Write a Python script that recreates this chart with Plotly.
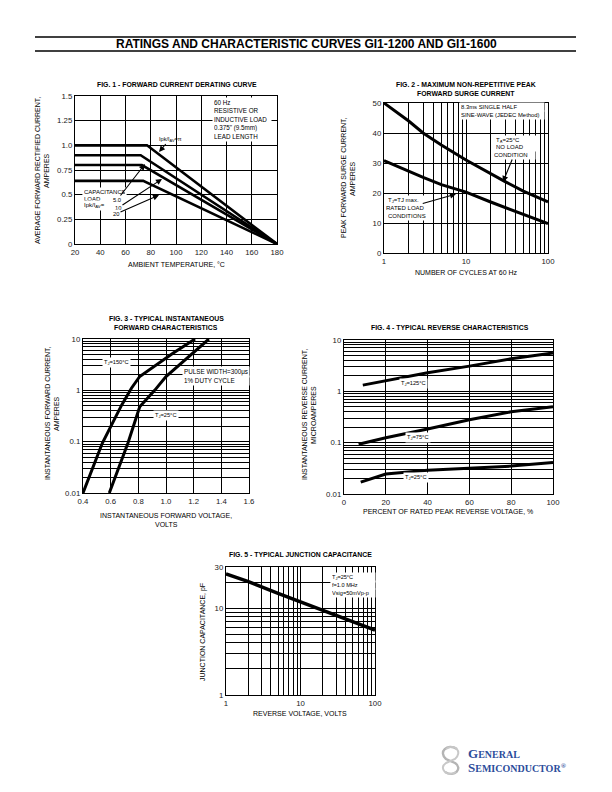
import plotly.graph_objects as go

W, H = 612, 792
FONT = "Liberation Sans, Arial, sans-serif"

# ---------------- data ----------------
# Fig 1 - derating curves (temperature degC, current A)
f1_t_pi = [20, 77, 180]; f1_i_pi = [1.0, 1.0, 0.0]
f1_t_5 = [20, 72, 180];  f1_i_5 = [0.9, 0.9, 0.0]
f1_t_10 = [20, 73, 180]; f1_i_10 = [0.8, 0.8, 0.0]
f1_t_20 = [20, 74, 180]; f1_i_20 = [0.64, 0.64, 0.0]
f1_xticks = [20, 40, 60, 80, 100, 120, 140, 160, 180]
f1_yticks = [0, 0.25, 0.5, 0.75, 1.0, 1.25, 1.5]
f1_ylabels = ["0", "0.25", "0.5", "0.75", "1.0", "1.25", "1.5"]

# Fig 2 - surge current
f2_n = [1, 2, 3, 5, 10, 20, 30, 50, 100]
f2_noload = [50, 44.0, 40.0, 36.0, 31.0, 26.3, 23.8, 20.6, 17.0]
f2_rated = [30.8, 27.2, 25.2, 22.8, 20.3, 17.0, 15.2, 12.8, 9.8]
dec_major = [1, 10, 100]
dec_minor = [2, 3, 4, 5, 6, 7, 8, 9, 20, 30, 40, 50, 60, 70, 80, 90]
f2_yticks = [0, 10, 20, 30, 40, 50]

# Fig 3 - forward characteristics
f3_v150 = [0.40, 0.54, 0.68, 0.75, 0.81, 0.93, 1.05, 1.21]
f3_i150 = [0.01, 0.094, 0.52, 1.1, 1.86, 3.1, 5.3, 10]
f3_v25 = [0.59, 0.725, 0.81, 0.918, 1.0, 1.195, 1.31]
f3_i25 = [0.01, 0.094, 0.48, 1.0, 1.86, 5.3, 10]
f3_xticks = [0.4, 0.6, 0.8, 1.0, 1.2, 1.4, 1.6]
f3_xlabels = ["0.4", "0.6", "0.8", "1.0", "1.2", "1.4", "1.6"]

# log grid ticks 0.01 .. 10
cur_major = [0.01, 0.1, 1, 10]
cur_labels = ["0.01", "0.1", "1", "10"]
cur_minor = [0.02, 0.03, 0.04, 0.05, 0.06, 0.07, 0.08, 0.09,
             0.2, 0.3, 0.4, 0.5, 0.6, 0.7, 0.8, 0.9,
             2, 3, 4, 5, 6, 7, 8, 9]

# Fig 4 - reverse characteristics
f4_p125 = [9, 20, 40, 60, 80, 100]
f4_i125 = [1.32, 1.6, 2.3, 3.1, 4.3, 5.6]
f4_p75 = [7, 20, 40, 60, 80, 100]
f4_i75 = [0.093, 0.125, 0.185, 0.28, 0.4, 0.5]
f4_p25 = [8, 20, 40, 60, 80, 100]
f4_i25 = [0.017, 0.0245, 0.029, 0.032, 0.035, 0.041]
f4_xticks = [0, 20, 40, 60, 80, 100]

# Fig 5 - junction capacitance
f5_v = [1, 2, 5, 10, 20, 50, 100]
f5_c = [25, 20.3, 14.9, 11.9, 9.5, 7.1, 5.6]
f5_ymajor = [1, 10, 30]
f5_yminor = [2, 3, 4, 5, 6, 7, 8, 9, 20]


def fx(px):
    return px / W


def fy(py):
    return 1 - py / H


fig = go.Figure()


def add_line(x, y, n, width=2.6):
    suffix = "" if n == 1 else str(n)
    fig.add_trace(go.Scatter(x=x, y=y, mode="lines", line=dict(color="black", width=width),
                             xaxis="x" + suffix, yaxis="y" + suffix, showlegend=False,
                             hoverinfo="skip"))


add_line(f1_t_pi, f1_i_pi, 1, 2.6)
add_line(f1_t_5, f1_i_5, 1, 2.6)
add_line(f1_t_10, f1_i_10, 1, 2.6)
add_line(f1_t_20, f1_i_20, 1, 2.6)
add_line(f2_n, f2_noload, 2, 3.0)
add_line(f2_n, f2_rated, 2, 3.0)
add_line(f3_v150, f3_i150, 3, 3.0)
add_line(f3_v25, f3_i25, 3, 3.0)
add_line(f4_p125, f4_i125, 4, 3.0)
add_line(f4_p75, f4_i75, 4, 3.0)
add_line(f4_p25, f4_i25, 4, 3.0)
add_line(f5_v, f5_c, 5, 3.4)

tickfont = dict(family=FONT, size=7.8, color="#222")


def ax(minor_vals=None, **kw):
    base = dict(showline=True, linecolor="black", linewidth=1.4, mirror=True,
                showgrid=True, gridcolor="black", gridwidth=0.9, zeroline=False,
                ticks="", tickfont=tickfont, fixedrange=True, ticklen=0,
                automargin=False, tickmode="array")
    if minor_vals is not None:
        base["minor"] = dict(tickmode="array", tickvals=minor_vals, showgrid=True,
                             gridcolor="black", gridwidth=0.9, ticks="")
    base.update(kw)
    return base


layout = dict(
    template="none",
    width=W, height=H, margin=dict(l=0, r=0, t=0, b=0, pad=0),
    paper_bgcolor="white", plot_bgcolor="white", showlegend=False,
    font=dict(family=FONT, color="black"),
    # Fig 1
    xaxis=ax(domain=[fx(75), fx(277)], range=[20, 180], tickvals=f1_xticks, anchor="y"),
    yaxis=ax(domain=[fy(244), fy(96)], range=[0, 1.5], tickvals=f1_yticks,
             ticktext=f1_ylabels, anchor="x"),
    # Fig 2
    xaxis2=ax(minor_vals=dec_minor, domain=[fx(384), fx(548)], type="log", range=[0, 2],
              tickvals=dec_major, ticktext=["1", "10", "100"], anchor="y2"),
    yaxis2=ax(domain=[fy(253), fy(103)], range=[0, 50], tickvals=f2_yticks, anchor="x2"),
    # Fig 3
    xaxis3=ax(domain=[fx(83), fx(249)], range=[0.4, 1.6], tickvals=f3_xticks,
              ticktext=f3_xlabels, anchor="y3"),
    yaxis3=ax(minor_vals=cur_minor, domain=[fy(493), fy(339)], type="log", range=[-2, 1],
              tickvals=cur_major, ticktext=cur_labels, anchor="x3"),
    # Fig 4
    xaxis4=ax(domain=[fx(344), fx(553)], range=[0, 100], tickvals=f4_xticks, anchor="y4"),
    yaxis4=ax(minor_vals=cur_minor, domain=[fy(494), fy(340)], type="log", range=[-2, 1],
              tickvals=cur_major, ticktext=cur_labels, anchor="x4"),
    # Fig 5
    xaxis5=ax(minor_vals=dec_minor, domain=[fx(226), fx(375)], type="log", range=[0, 2],
              tickvals=dec_major, ticktext=["1", "10", "100"], anchor="y5"),
    yaxis5=ax(minor_vals=f5_yminor, domain=[fy(695), fy(567)], type="log",
              range=[0, 1.4771], tickvals=f5_ymajor, ticktext=["1", "10", "30"], anchor="x5"),
)
fig.update_layout(**layout)

ann = []


def text(px, py, s, size=6.3, xanchor="center", yanchor="middle", bold=False, angle=0,
         bg=None, align="center", color="black", family=FONT, arrow_to=None, width=None):
    if bold:
        s = "<b>" + s + "</b>"
    d = dict(xref="paper", yref="paper", text=s,
             xanchor=xanchor, yanchor=yanchor, textangle=angle, align=align,
             font=dict(family=family, size=size, color=color))
    if arrow_to is None:
        d.update(x=fx(px), y=fy(py), showarrow=False)
    else:
        hx, hy = arrow_to
        d.update(x=fx(hx), y=fy(hy), showarrow=True, ax=px - hx, ay=py - hy,
                 arrowhead=2, arrowsize=1.1, arrowwidth=1.1, arrowcolor="black",
                 standoff=0, startstandoff=0)
    if bg:
        d.update(bgcolor=bg, borderpad=1)
    if width:
        d.update(width=width)
    ann.append(d)


def box(left, ys, items, size, width, arrow_line=None, arrow_to=None):
    """left-aligned multi-line white label, one annotation per line"""
    for k, (y, s) in enumerate(zip(ys, items)):
        if arrow_line == k:
            text(left + width / 2, y, s, size=size, align="left", bg="white", width=width,
                 arrow_to=arrow_to)
        else:
            text(left, y, s, size=size, xanchor="left", align="left", bg="white", width=width)


TS = 6.9   # figure-title size
LS = 7.0   # axis-label size

# main title
text(306, 44, "RATINGS AND CHARACTERISTIC CURVES GI1-1200 AND GI1-1600", size=12, bold=True)

# Fig 1 texts
text(177, 85, "FIG. 1 - FORWARD CURRENT DERATING CURVE", size=TS, bold=True)
text(176, 265, "AMBIENT TEMPERATURE, °C", size=LS)
text(37, 171, "AVERAGE FORWARD RECTIFIED CURRENT,", size=LS, angle=-90)
text(46, 171, "AMPERES", size=LS, angle=-90)
box(212, [102, 110.5, 119, 127.5, 136],
    ["60 Hz", "RESISTIVE OR", "INDUCTIVE LOAD", "0.375\" (9.5mm)", "LEAD LENGTH"],
    6.3, 56)
text(170, 139, "Ipk/I<sub>AV</sub>=π", size=5.6, arrow_to=(159, 152))
box(82, [192, 198.5, 205.5], ["CAPACITANCE", "LOAD", "Ipk/I<sub>AV</sub>="], 6.0, 41)
text(117, 200, "5.0", size=5.8, bg="white", arrow_to=(145, 164))
text(118, 208, "10", size=5.8, bg="white", arrow_to=(162, 179))
text(116, 214, "20", size=5.8, bg="white", arrow_to=(159, 195))

# Fig 2 texts
text(466, 84, "FIG. 2 - MAXIMUM NON-REPETITIVE PEAK", size=TS, bold=True)
text(466, 93, "FORWARD SURGE CURRENT", size=TS, bold=True)
text(466, 272, "NUMBER OF CYCLES AT 60 Hz", size=LS)
text(344, 178, "PEAK FORWARD SURGE CURRENT,", size=LS, angle=-90)
text(353, 178, "AMPERES", size=LS, angle=-90)
box(459, [107, 115], ["8.3ms SINGLE HALF", "SINE-WAVE (JEDEC Method)"], 5.9, 82)
box(494, [140, 147.5, 155], ["T<sub>A</sub>=25°C", "NO LOAD", "CONDITION"], 6.0, 40,
    arrow_line=2, arrow_to=(503, 182))
box(386, [200, 208, 216], ["T<sub>J</sub>=TJ max.", "RATED LOAD", "CONDITIONS"], 6.0, 42,
    arrow_line=1, arrow_to=(456, 194))

# Fig 3 texts
text(166, 318, "FIG. 3 - TYPICAL INSTANTANEOUS", size=TS, bold=True)
text(166, 327, "FORWARD CHARACTERISTICS", size=TS, bold=True)
text(166, 515, "INSTANTANEOUS FORWARD VOLTAGE,", size=LS)
text(166, 524, "VOLTS", size=LS)
text(47, 413, "INSTANTANEOUS FORWARD CURRENT,", size=LS, angle=-90)
text(56, 413, "AMPERES", size=LS, angle=-90)
text(117, 363, "T<sub>J</sub>=150°C", size=5.7, bg="white")
box(182, [372, 380.5], ["PULSE WIDTH=300μs", "1% DUTY CYCLE"], 6.3, 64)
text(166, 415, "T<sub>J</sub>=25°C", size=5.7, bg="white")

# Fig 4 texts
text(450, 327, "FIG. 4 - TYPICAL REVERSE CHARACTERISTICS", size=TS, bold=True)
text(448, 511, "PERCENT OF RATED PEAK REVERSE VOLTAGE, %", size=LS)
text(304, 415, "INSTANTANEOUS REVERSE CURRENT,", size=LS, angle=-90)
text(313, 415, "MICROAMPERES", size=LS, angle=-90)
text(413, 383, "T<sub>J</sub>=125°C", size=5.7, bg="white")
text(418, 438, "T<sub>J</sub>=75°C", size=5.7, bg="white")
text(416, 478, "T<sub>J</sub>=25°C", size=5.7, bg="white")

# Fig 5 texts
text(300, 554, "FIG. 5 - TYPICAL JUNCTION CAPACITANCE", size=TS, bold=True)
text(300, 713, "REVERSE VOLTAGE, VOLTS", size=LS)
text(203, 632, "JUNCTION CAPACITANCE, pF", size=LS, angle=-90)
box(330, [577.5, 585, 592.5], ["T<sub>J</sub>=25°C", "f=1.0 MHz", "Vsig=50mVp-p"], 5.6, 42)

# logo text
SERIF = "Liberation Serif, Times New Roman, serif"
text(466, 753, "<span style='font-size:13px'>G</span>ENERAL", size=10, xanchor="left",
     bold=True, color="#2b4c9b", family=SERIF)
text(466, 767, "<span style='font-size:13px'>S</span>EMICONDUCTOR<sup>®</sup>", size=10,
     xanchor="left", bold=True, color="#2b4c9b", family=SERIF)

fig.update_layout(annotations=ann)

# title rules
shapes = [
    dict(type="line", xref="paper", yref="paper", x0=fx(35), x1=fx(576), y0=fy(37), y1=fy(37),
         line=dict(color="black", width=1.4)),
    dict(type="line", xref="paper", yref="paper", x0=fx(35), x1=fx(576), y0=fy(51), y1=fy(51),
         line=dict(color="black", width=1.4)),
]


def P(px, py):
    return f"{fx(px):.5f},{fy(py):.5f}"


logo_path = ("M " + P(457, 749) + " C " + P(447, 743) + " " + P(438, 752) + " " + P(446, 759)
             + " L " + P(455, 763) + " C " + P(463, 768) + " " + P(455, 778) + " " + P(445, 772))
logo_path2 = ("M " + P(446, 749) + " C " + P(455, 743) + " " + P(463, 752) + " " + P(455, 759)
              + " L " + P(446, 763) + " C " + P(438, 768) + " " + P(447, 778) + " " + P(456, 772))
shapes.append(dict(type="path", xref="paper", yref="paper", path=logo_path,
                   line=dict(color="#b4b4b4", width=2.4)))
shapes.append(dict(type="path", xref="paper", yref="paper", path=logo_path2,
                   line=dict(color="#c8c8c8", width=2.0)))
fig.update_layout(shapes=shapes)

fig.write_html("out.html", config={"displayModeBar": False},
               post_script="document.body.style.margin='0';document.body.style.padding='0';")
